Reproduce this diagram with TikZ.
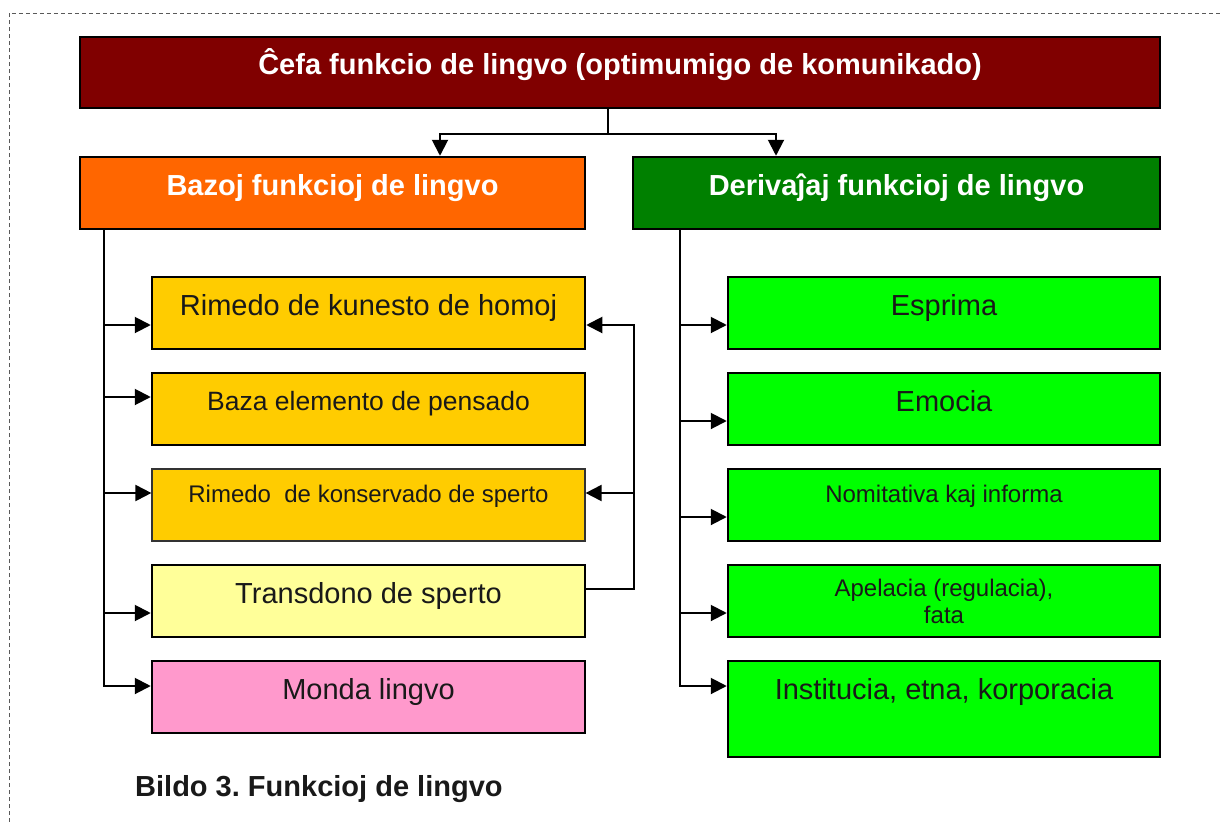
\documentclass[tikz,border=0pt]{standalone}
\usepackage{fontspec}
\setmainfont{Liberation Sans}
\usepackage{xcolor}
\usepackage{tikz}
\usetikzlibrary{arrows.meta, calc}

\definecolor{kapo}{HTML}{800000}
\definecolor{oranga}{HTML}{FF6600}
\definecolor{malhelverda}{HTML}{008000}
\definecolor{ora}{HTML}{FFCC00}
\definecolor{palflava}{HTML}{FFFF99}
\definecolor{roza}{HTML}{FF99CC}
\definecolor{verda}{HTML}{00FF00}

\begin{document}
\begin{tikzpicture}[x=1pt,y=-1pt]
			\tikzstyle{every node} = [inner sep=0pt, text=black!90]
			\tikzstyle{box} = [draw=black, line width=2.5pt, minimum height=72pt]
			\tikzstyle{txtbig} = [font=\fontsize{29}{34}\selectfont, text height=21pt, text depth=17pt]
			\tikzstyle{txtmid} = [font=\fontsize{26.5}{31}\selectfont, text height=19pt, text depth=16pt]
			\tikzstyle{txtsmall} = [font=\fontsize{24}{27}\selectfont, text height=17pt, text depth=22pt]
			\tikzstyle{header} = [box, txtbig, text=white, font=\fontsize{29}{34}\selectfont\bfseries]
			\tikzstyle{lbox} = [box, minimum width=433pt]
			\tikzstyle{rbox} = [box, minimum width=432pt, fill=verda]
			\tikzstyle{line} = [draw, line width=2pt]
			\tikzstyle{conn} = [line, -{Triangle[length=16pt,width=16pt]}]
				\useasboundingbox (0,0) rectangle (1221,822);
				% frame
				\path[draw, black!65, line width=1pt, dash pattern=on 4pt off 3pt]
					(9,822) -- (9,13) -- (1221,13);
				% headers
				\node[header, fill=kapo, minimum width=1080pt, minimum height=71pt] (cefa) at (620,72.5)
					{Ĉefa funkcio de lingvo (optimumigo de komunikado)};
				\node[header, fill=oranga, minimum width=505pt] (bazoj) at (332.5,193)
					{Bazoj funkcioj de lingvo};
				\node[header, fill=malhelverda, minimum width=527pt] (deriv) at (896.5,193)
					{Derivaĵaj funkcioj de lingvo};
				% left column
				\node[lbox, txtbig, fill=ora] (l1) at (368.5,313) {Rimedo de kunesto de homoj};
				\node[lbox, txtmid, fill=ora] (l2) at (368.5,409) {Baza elemento de pensado};
				\node[lbox, txtsmall, fill=ora, line width=1.2pt, draw=black!80] (l3) at (368.5,505)
					{Rimedo~ de konservado de sperto};
				\node[lbox, txtbig, fill=palflava] (l4) at (368.5,601) {Transdono de sperto};
				\node[lbox, txtbig, fill=roza] (l5) at (368.5,697) {Monda lingvo};
				% right column
				\node[rbox, txtbig] (r1) at (944,313) {Esprima};
				\node[rbox, txtbig] (r2) at (944,409) {Emocia};
				\node[rbox, txtsmall] (r3) at (944,505) {Nomitativa kaj informa};
				\node[rbox, align=center, font=\fontsize{24}{27}\selectfont] (r4) at (944,601)
					{Apelacia (regulacia),\\fata};
				\node[rbox, txtbig, minimum height=96pt, text depth=40pt] (r5) at (944,709)
					{Institucia, etna, korporacia};
				% caption
				\node[anchor=base west, font=\fontsize{29}{34}\selectfont\bfseries] (bildo) at (135,796)
					{Bildo 3.\ Funkcioj de lingvo};
				% top split
				\coordinate (c0) at ([xshift=-12pt]cefa.south);
				\coordinate (cb) at ([xshift=107.5pt]bazoj.north);
				\coordinate (cd) at ([xshift=-120.5pt]deriv.north);
				\path[conn] (c0) -- ++(0,25) -| (cb);
				\path[conn] (c0) -- ++(0,25) -| (cd);
				% left spine
				\coordinate (sL) at ([xshift=25pt]bazoj.south west);
				\coordinate (a1) at ([yshift=-12pt]l1.west);
				\coordinate (a2) at ([yshift=12pt]l2.west);
				\coordinate (a3) at ([yshift=12pt]l3.west);
				\coordinate (a4) at ([yshift=-12pt]l4.west);
				\coordinate (a5) at ([yshift=11pt]l5.west);
				\path[conn] (sL) |- (a5);
				\foreach \a in {a1,a2,a3,a4}
					\path[conn] (sL |- \a) -- (\a);
				% right spine
				\coordinate (sR) at ([xshift=48pt]deriv.south west);
				\coordinate (b1) at ([yshift=-12pt]r1.west);
				\coordinate (b2) at ([yshift=-12pt]r2.west);
				\coordinate (b3) at ([yshift=-12pt]r3.west);
				\coordinate (b4) at ([yshift=-12pt]r4.west);
				\coordinate (b5) at ([yshift=23pt]r5.west);
				\path[conn] (sR) |- (b5);
				\foreach \b in {b1,b2,b3,b4}
					\path[conn] (sR |- \b) -- (\b);
				% feedback
				\coordinate (t1) at ([yshift=-12pt]l1.east);
				\coordinate (t3) at ([yshift=12pt]l3.east);
				\coordinate (t4) at ([yshift=12pt]l4.east);
				\path[conn] (t4) -- ++(48,0) |- (t1);
				\path[conn] ([xshift=48pt]t3) -- (t3);
			\end{tikzpicture}
\end{document}
